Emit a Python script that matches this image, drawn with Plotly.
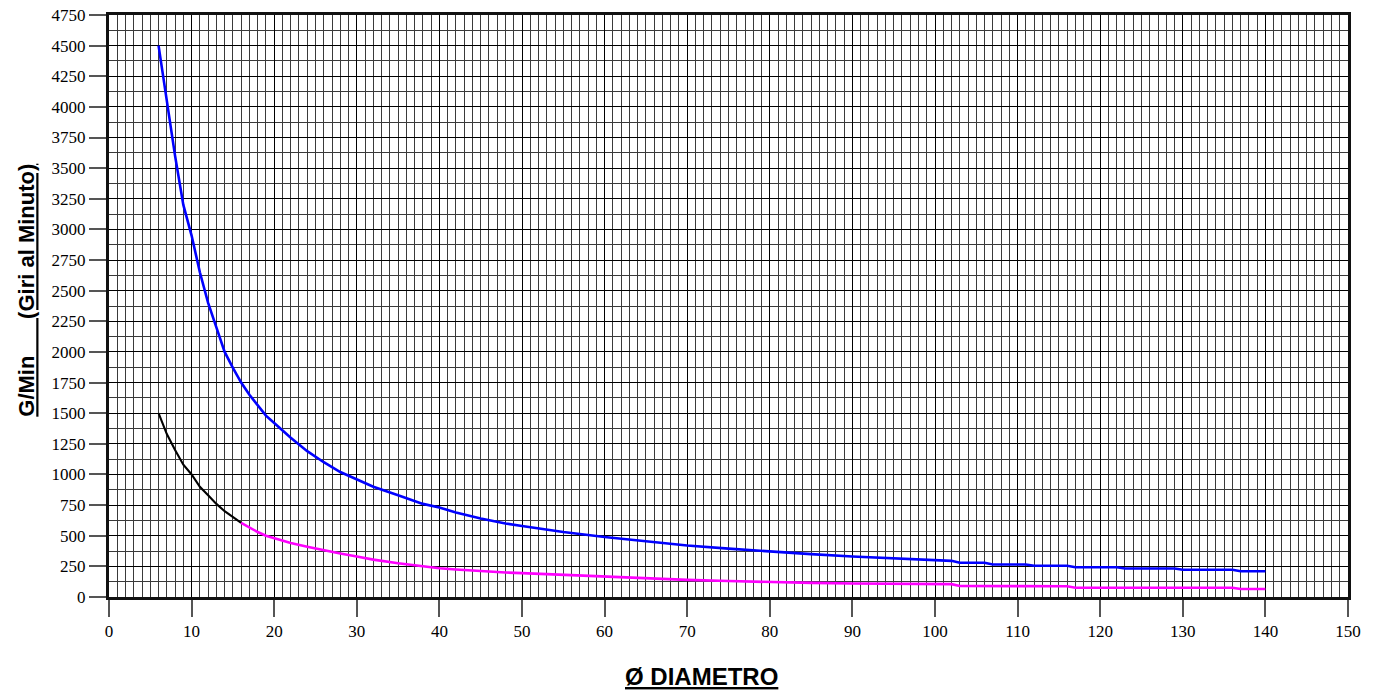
import plotly.graph_objects as go

# ---- data ----
diam_blue = [6, 7, 8, 9, 10, 11, 12, 13, 14, 15, 16, 17, 18, 19, 20, 22, 24, 26, 28, 30,
             32, 35, 38, 40, 42, 45, 48, 50, 55, 60, 65, 70, 75, 80, 85, 90, 95, 100,
             102, 103, 106, 107, 111, 112, 116, 117, 122, 123, 129, 130, 136, 137, 140]
rpm_blue = [4500, 4040, 3600, 3200, 2950, 2650, 2400, 2200, 2000, 1870, 1750, 1650, 1560, 1480, 1420, 1300, 1190, 1100, 1020, 960,
            900, 830, 760, 730, 690, 640, 600, 580, 530, 490, 455, 420, 395, 370, 350, 330, 315, 298,
            295, 280, 280, 265, 265, 255, 255, 243, 243, 232, 232, 222, 222, 210, 210]

diam_black = [6, 7, 8, 9, 10, 11, 12, 13, 14, 15, 16]
rpm_black = [1500, 1330, 1200, 1080, 1000, 900, 830, 760, 700, 650, 605]

diam_magenta = [16, 17, 18, 19, 20, 22, 24, 26, 28, 30, 32, 35, 38, 40, 42, 45, 48, 50, 55, 60,
                65, 70, 75, 80, 85, 90, 95, 100, 102, 103, 116, 117, 136, 137, 140]
rpm_magenta = [605, 565, 530, 500, 480, 440, 410, 380, 355, 330, 305, 275, 250, 235, 225, 210, 200, 195, 180, 165,
               155, 140, 130, 120, 115, 110, 107, 105, 105, 90, 88, 76, 76, 65, 65]

x_tick_vals = list(range(0, 151, 10))
y_tick_vals = list(range(0, 4751, 250))

x_title = "<u><b>Ø DIAMETRO</b></u>"
y_title = "<u><b>G/Min" + "\u00a0" * 6 + "(Giri al Minuto)</b></u>"

SERIF = "Liberation Serif, Times New Roman, serif"
SANS = "Liberation Sans, Arial, sans-serif"

fig = go.Figure()
fig.add_trace(go.Scatter(x=diam_blue, y=rpm_blue, mode="lines",
                         line=dict(color="#0000ff", width=2.6), showlegend=False))
fig.add_trace(go.Scatter(x=diam_black, y=rpm_black, mode="lines",
                         line=dict(color="#000000", width=2.1), showlegend=False))
fig.add_trace(go.Scatter(x=diam_magenta, y=rpm_magenta, mode="lines",
                         line=dict(color="#ff00ff", width=2.6), showlegend=False))

fig.update_layout(
    template="none",
    width=1380, height=690,
    font=dict(family=SERIF, size=17, color="#000"),
    margin=dict(l=109, r=32, t=15, b=93, autoexpand=False),
    paper_bgcolor="white", plot_bgcolor="white",
    showlegend=False,
    xaxis=dict(range=[0, 150], tickmode="array", tickvals=x_tick_vals,
               ticks="outside", ticklen=17, tickcolor="#555", tickwidth=1.5,
               tickfont=dict(family=SERIF, size=17, color="#000"),
               automargin=False,
               showgrid=True, gridcolor="#000", gridwidth=1,
               minor=dict(dtick=1, showgrid=True, gridcolor="#3a3a3a", gridwidth=1, ticks=""),
               showline=True, linecolor="#111", linewidth=3, mirror=True,
               zeroline=False),
    yaxis=dict(range=[0, 4750], tickmode="array", tickvals=y_tick_vals,
               ticks="outside", ticklen=17, tickcolor="#555", tickwidth=1.5,
               tickfont=dict(family=SERIF, size=17, color="#000"),
               automargin=False,
               showgrid=True, gridcolor="#000", gridwidth=1,
               minor=dict(dtick=125, showgrid=True, gridcolor="#3a3a3a", gridwidth=1, ticks=""),
               showline=True, linecolor="#111", linewidth=3, mirror=True,
               zeroline=False),
    annotations=[
        dict(text=x_title, xref="paper", yref="paper", x=0.478, y=-0.137,
             xanchor="center", yanchor="middle", showarrow=False,
             font=dict(family=SANS, size=24, color="#000")),
        dict(text=y_title, xref="paper", yref="paper", x=-0.0662, y=0.528,
             xanchor="center", yanchor="middle", showarrow=False, textangle=-90,
             font=dict(family=SANS, size=22, color="#000")),
    ],
)

fig.write_html("out.html", config={"displayModeBar": False})

# remove the browser's default page margin so the figure sits at the top-left corner
with open("out.html", "r", encoding="utf-8") as f:
    html = f.read()
html = html.replace("<head>", "<head><style>html,body{margin:0;padding:0;overflow:hidden;}</style>", 1)
with open("out.html", "w", encoding="utf-8") as f:
    f.write(html)
